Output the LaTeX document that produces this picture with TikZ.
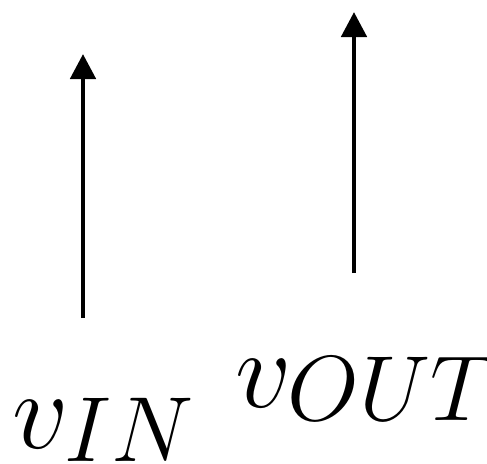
\documentclass[tikz,border=0pt]{standalone}
\usepackage{fix-cm}
\usepackage{tikz}
\usetikzlibrary{arrows.meta}
\definecolor{ink}{HTML}{000000}
\DeclareMathSizes{111}{111}{92.5}{74}
\newcommand{\lowidx}[1]{_{\raisebox{3pt}[0pt][0pt]{$\scriptstyle #1$}}}
\tikzset{>={Triangle[length=25pt,width=25pt]},
  sig/.style={draw=ink,line width=4.8pt,->},
  lab/.style={inner sep=0pt,anchor=base west,font=\fontsize{111}{130}\selectfont}}
\begin{document}
\begin{tikzpicture}[x=1pt,y=-1pt]
  \useasboundingbox (0,0) rectangle (487,463);
  \coordinate (inB) at (83,318);
  \coordinate (inT) at (83,54);
  \coordinate (outB) at (354,273);
  \coordinate (outT) at (354,12);
  \draw[sig] (inB)--(inT);
  \draw[sig] (outB)--(outT);
  \node[lab] (vin) at (12,448) {$v\lowidx{IN}$};
  \node[lab] (vout) at (235,407) {$v\lowidx{OUT}$};
\end{tikzpicture}
\end{document}
